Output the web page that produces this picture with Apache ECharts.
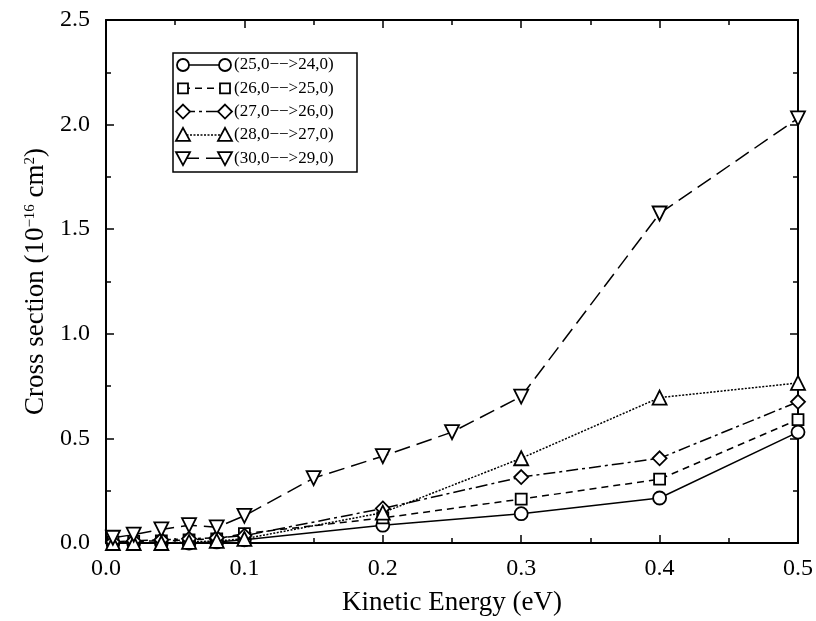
<!DOCTYPE html>
<html>
<head>
<meta charset="utf-8">
<script src="https://cdn.jsdelivr.net/npm/echarts@6/dist/echarts.min.js"></script>
<style>
  html, body { margin: 0; padding: 0; background: #fff; overflow: hidden; }
  #main { width: 816px; height: 621px; }
</style>
</head>
<body>
<div id="main"></div>
<script>
// energies (eV)
var energyA = [0.005, 0.02, 0.04, 0.06, 0.08, 0.1, 0.2, 0.3, 0.4, 0.5];
var energyB = [0.005, 0.02, 0.04, 0.06, 0.08, 0.1, 0.15, 0.2, 0.25, 0.3, 0.4, 0.5];

// cross sections (1e-16 cm^2)
var cs25 = [0.0, 0.0, 0.0, 0.0, 0.005, 0.015, 0.085, 0.14, 0.215, 0.53];
var cs26 = [0.005, 0.008, 0.01, 0.015, 0.02, 0.045, 0.12, 0.21, 0.305, 0.59];
var cs27 = [0.005, 0.01, 0.015, 0.02, 0.025, 0.035, 0.165, 0.315, 0.405, 0.675];
var cs28 = [0.0, 0.0, 0.0, 0.005, 0.01, 0.02, 0.145, 0.405, 0.695, 0.765];
var cs30 = [0.025, 0.04, 0.065, 0.085, 0.075, 0.13, 0.31, 0.415, 0.53, 0.70, 1.575, 2.03];

var names = ['(25,0−−>24,0)', '(26,0−−>25,0)', '(27,0−−>26,0)', '(28,0−−>27,0)', '(30,0−−>29,0)'];
var symbols = ['circle', 'rect', 'diamond', 'triangle', 'down'];
var dashes = [null, [7, 5], [12, 4, 3, 4], [2, 1.5], [16, 7]];

const pairs = (xs, ys) => xs.map((x, i) => [x, ys[i]]);

var font = 'Liberation Serif';

const mkSeries = (i, data) => ({
  name: names[i],
  type: 'line',
  data: data,
  symbol: symbols[i] === 'down' ? 'triangle' : symbols[i],
  symbolSize: symbols[i] === 'rect' ? 11 : (symbols[i] === 'circle' ? 13 : 14),
  symbolRotate: symbols[i] === 'down' ? 180 : 0,
  showAllSymbol: true,
  lineStyle: { color: '#000', width: 1.5, type: dashes[i] || 'solid' },
  itemStyle: { color: '#fff', borderColor: '#000', borderWidth: 1.8 },
  emphasis: { disabled: true },
  animation: false
});

// legend drawn by hand: marker - line - marker, then the label
const legendMarker = (kind, cx, cy) => {
  var st = { fill: '#fff', stroke: '#000', lineWidth: 1.8 };
  if (kind === 'circle') return { type: 'circle', shape: { cx: cx, cy: cy, r: 6 }, style: st, z: 12 };
  if (kind === 'rect') return { type: 'rect', shape: { x: cx - 5, y: cy - 5, width: 10, height: 10 }, style: st, z: 12 };
  if (kind === 'diamond') return { type: 'polygon', shape: { points: [[cx, cy - 7], [cx + 7, cy], [cx, cy + 7], [cx - 7, cy]] }, style: st, z: 12 };
  if (kind === 'triangle') return { type: 'polygon', shape: { points: [[cx, cy - 7], [cx + 7, cy + 6], [cx - 7, cy + 6]] }, style: st, z: 12 };
  return { type: 'polygon', shape: { points: [[cx - 7, cy - 6], [cx + 7, cy - 6], [cx, cy + 7]] }, style: st, z: 12 };
};

var legendGraphics = [{
  type: 'rect',
  shape: { x: 173, y: 53, width: 184, height: 119 },
  style: { fill: '#fff', stroke: '#000', lineWidth: 1.5 },
  z: 10
}];
for (var i = 0; i < names.length; i++) {
  var cy = 65 + i * 23.3;
  legendGraphics.push({
    type: 'line',
    shape: { x1: 183, y1: cy, x2: 225, y2: cy },
    style: { stroke: '#000', lineWidth: 1.5, lineDash: dashes[i] },
    z: 11
  });
  legendGraphics.push(legendMarker(symbols[i], 183, cy));
  legendGraphics.push(legendMarker(symbols[i], 225, cy));
  legendGraphics.push({
    type: 'text',
    x: 234, y: cy,
    style: { text: names[i], font: '17px "Liberation Serif"', fill: '#000', textVerticalAlign: 'middle' },
    z: 12
  });
}

var myChart = echarts.init(document.getElementById('main'));

var axisCommon = {
  type: 'value',
  axisLine: { show: true, onZero: false, lineStyle: { color: '#000', width: 2 } },
  axisTick: { show: true, inside: true, length: 8, lineStyle: { color: '#000', width: 1.5 } },
  minorTick: { show: true, splitNumber: 2, length: 5, lineStyle: { color: '#000', width: 1.5 } },
  splitLine: { show: false }
};

var option = {
  backgroundColor: '#fff',
  animation: false,
  grid: { left: 106, top: 20, width: 692, height: 528, containLabel: false },
  graphic: legendGraphics,
  xAxis: [
    Object.assign({}, axisCommon, {
      min: 0, max: 0.5, interval: 0.1,
      position: 'bottom',
      axisLabel: { fontFamily: font, fontSize: 24, color: '#000', margin: 14,
        formatter: v => v.toFixed(1) },
      name: 'Kinetic Energy (eV)',
      nameLocation: 'middle',
      nameGap: 46,
      nameTextStyle: { fontFamily: font, fontSize: 27, color: '#000' }
    }),
    Object.assign({}, axisCommon, {
      min: 0, max: 0.5, interval: 0.1,
      position: 'top',
      axisLabel: { show: false }
    })
  ],
  yAxis: [
    Object.assign({}, axisCommon, {
      min: 0, max: 2.5, interval: 0.5,
      position: 'left',
      axisLabel: { fontFamily: font, fontSize: 24, color: '#000', margin: 16,
        formatter: v => v.toFixed(1) },
      name: '{t|Cross section (10}{s|−16}{t| cm}{s|2}{t|)}',
      nameLocation: 'middle',
      nameGap: 54,
      nameTextStyle: {
        fontFamily: font, fontSize: 27, color: '#000',
        rich: {
          t: { fontFamily: font, fontSize: 27, color: '#000', verticalAlign: 'bottom' },
          s: { fontFamily: font, fontSize: 15, color: '#000', verticalAlign: 'top' }
        }
      }
    }),
    Object.assign({}, axisCommon, {
      min: 0, max: 2.5, interval: 0.5,
      position: 'right',
      axisLabel: { show: false }
    })
  ],
  series: [
    mkSeries(0, pairs(energyA, cs25)),
    mkSeries(1, pairs(energyA, cs26)),
    mkSeries(2, pairs(energyA, cs27)),
    mkSeries(3, pairs(energyA, cs28)),
    mkSeries(4, pairs(energyB, cs30))
  ]
};

myChart.setOption(option);
</script>
</body>
</html>
